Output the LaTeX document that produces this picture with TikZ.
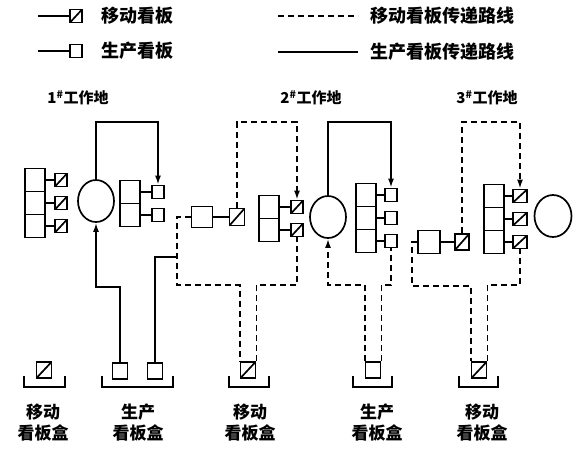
\documentclass[tikz,border=0pt]{standalone}
\usepackage{fontspec}
\usepackage{tikz}
\usetikzlibrary{shapes.geometric, arrows, arrows.meta}
\setmainfont{Noto Sans CJK SC}
\tikzstyle{container} = [rectangle,
minimum width=20pt,
minimum height=23pt,
inner sep=0pt,
draw=black,
line width=1.7pt]
\tikzstyle{prodkb} = [rectangle,
minimum width=12pt,
minimum height=13pt,
inner sep=0pt,
draw=black,
line width=1.7pt]
\tikzstyle{movekb} = [prodkb,
path picture={\draw[line width=1.7pt] (path picture bounding box.south west) -- (path picture bounding box.north east);}]
\tikzstyle{boxkb} = [minimum width=15pt,
minimum height=16pt]
\tikzstyle{machine} = [ellipse,
minimum width=36pt,
minimum height=42pt,
inner sep=0pt,
draw=black,
line width=1.7pt]
\tikzstyle{prodline} = [draw=black, line width=1.7pt]
\tikzstyle{moveline} = [draw=black, line width=1.7pt, dash pattern=on 6pt off 4pt]
\tikzstyle{legend} = [anchor=west, inner sep=0pt, font=\bfseries\fontsize{18}{18}\selectfont]
\tikzstyle{station} = [inner sep=0pt, font=\bfseries\fontsize{15}{15}\selectfont]
\tikzstyle{boxlabel} = [inner sep=0pt, align=center, font=\bfseries\fontsize{17}{21}\selectfont]

\begin{document}
\begin{tikzpicture}[x=1pt, y=-1pt, node distance=23pt, >={Latex[length=9pt, width=6pt]}]
\useasboundingbox (0,0) rectangle (581,448);

% legend
\coordinate (leg1) at (38,16);
\node (legmk) [movekb] at (76,16) {};
\node (legmktxt) [legend] at (101,16) {移动看板};
\coordinate (leg2) at (38,51);
\node (legpk) [prodkb] at (76,51) {};
\node (legpktxt) [legend] at (101,51) {生产看板};
\coordinate (leg3a) at (278,16);
\coordinate (leg3b) at (358,16);
\node (legmvtxt) [legend] at (370,16) {移动看板传递路线};
\coordinate (leg4a) at (278,52);
\coordinate (leg4b) at (358,52);
\node (legprtxt) [legend] at (370,52) {生产看板传递路线};
\draw [prodline] (leg1) -- (legmk);
\draw [prodline] (leg2) -- (legpk);
\draw [moveline] (leg3a) -- (leg3b);
\draw [prodline] (leg4a) -- (leg4b);

\node (st1) [station] at (78,98) {1\textsuperscript{\#}工作地};
\node (st2) [station] at (311,98) {2\textsuperscript{\#}工作地};
\node (st3) [station] at (487,98) {3\textsuperscript{\#}工作地};

% 1# work place
\node (in1a) [container] at (35,180) {};
\node (in1b) [container, below of=in1a] {};
\node (in1c) [container, below of=in1b] {};
\node (mk1a) [movekb, right of=in1a, xshift=3pt] {};
\node (mk1b) [movekb, right of=in1b, xshift=3pt] {};
\node (mk1c) [movekb, right of=in1c, xshift=3pt] {};
\node (m1) [machine] at (96,201) {};
\node (out1a) [container] at (130,192) {};
\node (out1b) [container, below of=out1a] {};
\node (pk1a) [prodkb, right of=out1a, xshift=5pt] {};
\node (pk1b) [prodkb, right of=out1b, xshift=5pt] {};

\node (c2) [container, minimum width=21pt, minimum height=21pt] at (202,217) {};
\node (mv2) [movekb, minimum width=15pt, minimum height=17pt, right of=c2, xshift=12pt] {};

% 2# work place
\node (in2a) [container] at (269,207) {};
\node (in2b) [container, below of=in2a] {};
\node (mk2a) [movekb, right of=in2a, xshift=5pt] {};
\node (mk2b) [movekb, right of=in2b, xshift=5pt] {};
\node (m2) [machine] at (328,217) {};
\node (out2a) [container] at (366,195) {};
\node (out2b) [container, below of=out2a] {};
\node (out2c) [container, below of=out2b] {};
\node (pk2a) [prodkb, right of=out2a, xshift=2pt] {};
\node (pk2b) [prodkb, right of=out2b, xshift=2pt] {};
\node (pk2c) [prodkb, right of=out2c, xshift=2pt] {};

\node (c3) [container, minimum width=22pt] at (429,242) {};
\node (mv3) [movekb, minimum width=14pt, minimum height=16pt, right of=c3, xshift=10pt] {};

% 3# work place
\node (in3a) [container] at (494,196) {};
\node (in3b) [container, below of=in3a] {};
\node (in3c) [container, below of=in3b] {};
\node (mk3a) [movekb, minimum width=14pt, right of=in3a, xshift=3pt] {};
\node (mk3b) [movekb, minimum width=14pt, right of=in3b, xshift=3pt] {};
\node (mk3c) [movekb, minimum width=14pt, right of=in3c, xshift=3pt] {};
\node (m3) [machine, minimum width=37pt] at (553,216) {};

% kanban boxes
\node (bm0) [movekb, boxkb] at (44,370) {};
\node (bp1a) [prodkb, boxkb] at (120,371) {};
\node (bp1b) [prodkb, boxkb] at (155,371) {};
\node (bm1) [movekb, boxkb] at (248,370) {};
\node (bp2) [prodkb, boxkb] at (373,370) {};
\node (bm3) [movekb, boxkb] at (479,370) {};
\draw [prodline] (24,376) |- (65,387) -- (65,376);
\draw [prodline] (102,376) |- (173,387) -- (173,376);
\draw [prodline] (229,376) |- (269,387) -- (269,376);
\draw [prodline] (353,376) |- (392,387) -- (392,376);
\draw [prodline] (459,376) |- (498,387) -- (498,376);
\node (bl1) [boxlabel] at (43,423) {移动\\看板盒};
\node (bl2) [boxlabel] at (138,423) {生产\\看板盒};
\node (bl3) [boxlabel] at (250,423) {移动\\看板盒};
\node (bl4) [boxlabel] at (377,423) {生产\\看板盒};
\node (bl5) [boxlabel] at (482,423) {移动\\看板盒};

\draw [prodline] (in1a) edge (mk1a) (in1b) edge (mk1b) (in1c) edge (mk1c);
\draw [prodline] (out1a) edge (pk1a) (out1b) edge (pk1b);
\draw [prodline] (in2a) edge (mk2a) (in2b) edge (mk2b);
\draw [prodline] (out2a) edge (pk2a) (out2b) edge (pk2b) (out2c) edge (pk2c);
\draw [prodline] (in3a) edge (mk3a) (in3b) edge (mk3b) (in3c) edge (mk3c);
\draw [prodline] (c2) -- (mv2);
\draw [prodline] (c3) -- (mv3);

\coordinate (ytop) at (0,122);
\coordinate (ylow) at (0,285);
\coordinate (yret) at (0,287);
\coordinate (j1) at (177,257);
\coordinate (d1) at (177,285);
\coordinate (d3) at (412,286);

\draw [prodline, ->] (m1.north) -- (m1.north |- ytop) -| (pk1a.north);
\draw [prodline, ->] (bp1a.north) |- (m1.south |- yret) -- (m1.south);
\draw [prodline] (bp1b.north) |- (j1);
\draw [moveline] (c2.west) -| (d1) -| (bm1.north west);
\draw [moveline, ->] (mv2.north) -- (mv2.north |- ytop) -| (mk2a.north);
\draw [moveline] (bm1.north east) -- (bm1.north east |- ylow) -| (mk2b.south);
\draw [prodline, ->] (m2.north) -- (m2.north |- ytop) -| (pk2a.north);
\draw [moveline, ->] (bp2.north west) -- (bp2.north west |- ylow) -| (m2.south);
\draw [moveline] (bp2.north east) -- (bp2.north east |- ylow) -| (pk2c.south);
\draw [moveline] (c3.west) -| (d3) -| (bm3.north west);
\draw [moveline] (bm3.north east) -- (bm3.north east |- ylow) -| (mk3c.south);
\draw [moveline, ->] (mv3.north) -- (mv3.north |- ytop) -| (mk3a.north);
\end{tikzpicture}
\end{document}
